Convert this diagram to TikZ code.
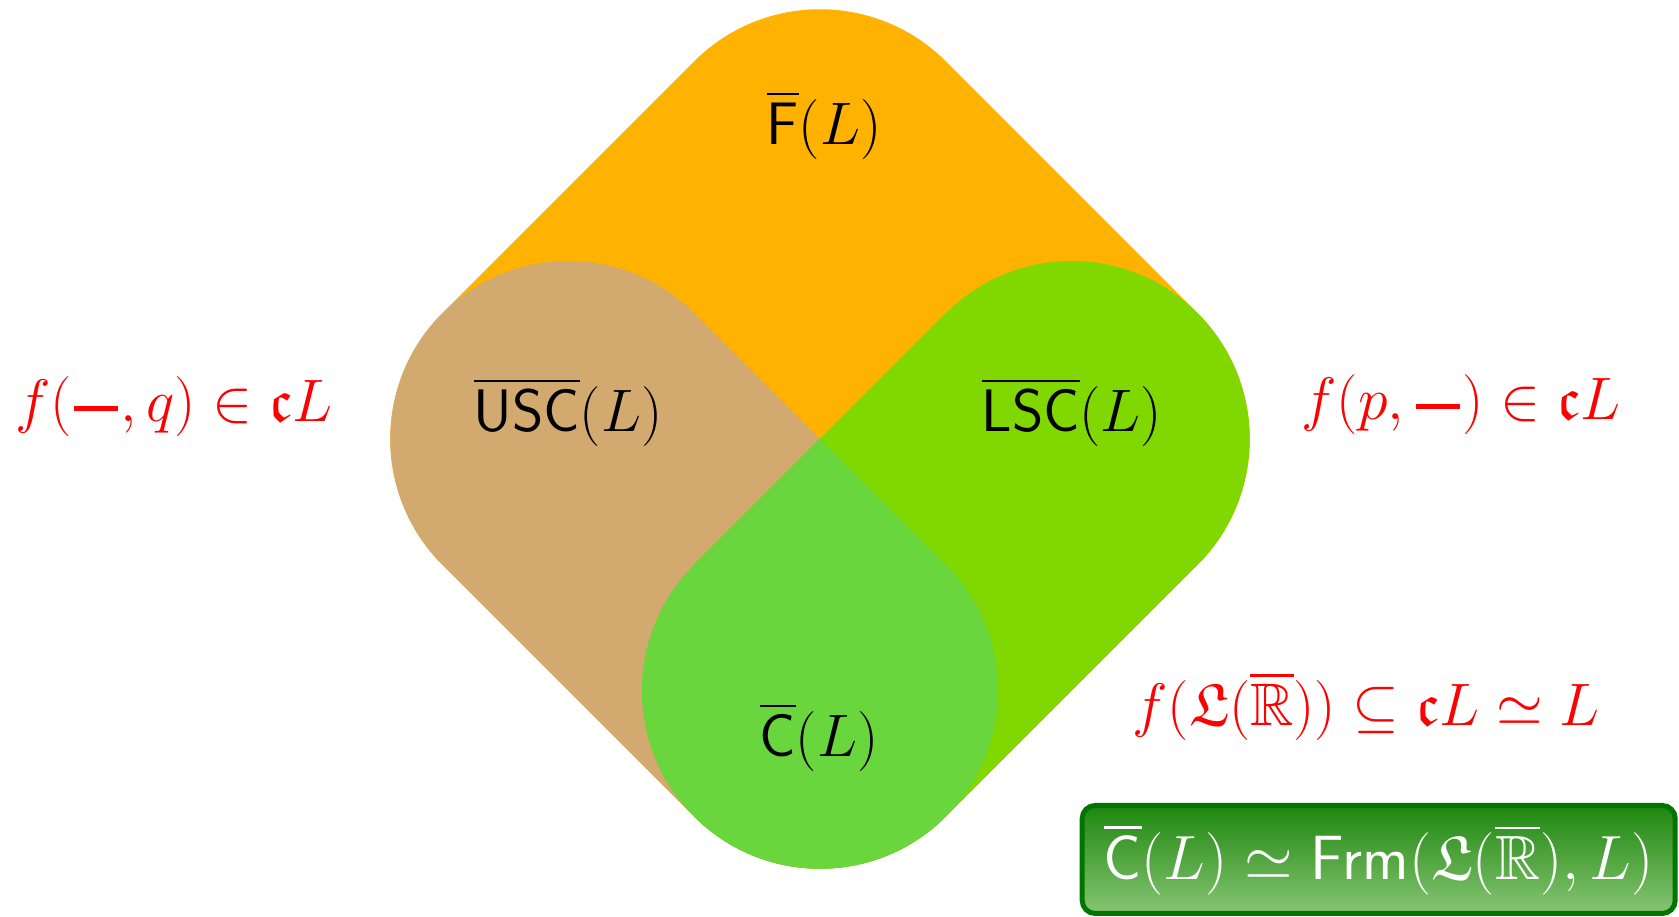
\documentclass[tikz,border=0pt]{standalone}
\usepackage{fix-cm}
\usepackage{amsmath,amssymb}
\definecolor{cF}{RGB}{255,179,0}
\definecolor{cU}{RGB}{210,170,112}
\definecolor{cL}{RGB}{128,216,0}
\definecolor{cC}{RGB}{104,214,60}
\definecolor{boxborder}{RGB}{0,118,0}
\definecolor{boxtop}{RGB}{30,135,15}
\definecolor{boxbot}{RGB}{135,197,115}
\newcommand\labfont{\fontsize{24}{29}\selectfont}
\newcommand\boxfont{\fontsize{25}{30}\selectfont}
\newcommand\bdash{\mathord{\kern1pt\rule[4.2pt]{17.5pt}{2pt}\kern1pt}}
\tikzset{
  region/.style={inner sep=0pt, text=black, font=\labfont},
  redlab/.style={inner sep=0pt, text=red, font=\labfont},
  resultbox/.style={draw=boxborder, line width=2pt, rounded corners=5.2pt,
    top color=boxtop, bottom color=boxbot, text=white, font=\boxfont,
    minimum width=237.2pt, minimum height=43.2pt, inner sep=0pt},
}
\begin{document}
\begin{tikzpicture}[x=0.4pt,y=0.4pt]
\useasboundingbox (0,0) rectangle (1679,917);
\begin{scope}[shift={(820,478)}, rotate=45]
  % F: whole rounded square
  \fill[cF] (356,-178) -- (356,178) arc[start angle=0,end angle=90,radius=178]
    -- (-178,356) arc[start angle=90,end angle=180,radius=178]
    -- (-356,-178) arc[start angle=180,end angle=270,radius=178]
    -- (178,-356) arc[start angle=270,end angle=360,radius=178] -- cycle;
  % USC
  \fill[cU] (0,178) arc[start angle=0,end angle=180,radius=178]
    -- (-356,-178) arc[start angle=180,end angle=360,radius=178] -- cycle;
  % LSC
  \fill[cL] (-178,0) -- (178,0) arc[start angle=90,end angle=-90,radius=178]
    -- (-178,-356) arc[start angle=270,end angle=90,radius=178] -- cycle;
  % C
  \fill[cC] (0,0) -- (-178,0) arc[start angle=90,end angle=360,radius=178] -- cycle;
\end{scope}
\node[region] (F) at (824,792) {$\overline{\mathsf{F}}(L)$};
\node[region] (USC) at (568,505) {$\overline{\mathsf{USC}}(L)$};
\node[region] (LSC) at (1072,505) {$\overline{\mathsf{LSC}}(L)$};
\node[region] (C) at (819,180) {$\overline{\mathsf{C}}(L)$};
\node[redlab] (lq) at (174,510) {$f(\bdash,q)\in\mathfrak{c}L$};
\node[redlab] (rp) at (1461,512) {$f(p,\bdash)\in\mathfrak{c}L$};
\node[redlab] (fl) at (1366,211) {$f(\mathfrak{L}(\overline{\mathbb{R}}))\subseteq\mathfrak{c}L\simeq L$};
\node[resultbox] (res) at (1378.7,57.5) {$\overline{\mathsf{C}}(L)\simeq\mathsf{Frm}(\mathfrak{L}(\overline{\mathbb{R}}),L)$};
\end{tikzpicture}
\end{document}
